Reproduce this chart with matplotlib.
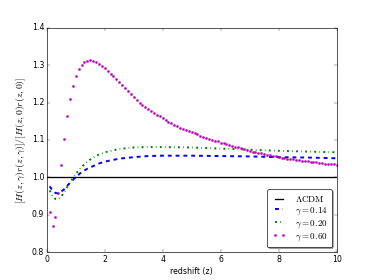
import matplotlib
matplotlib.use("Agg")
import matplotlib.pyplot as plt
import numpy as np

plt.style.use("classic")

# magenta (gamma = 0.60) sampled every 0.1 in z
z_m = [round(0.1 * i, 1) for i in range(1, 101)]
v_m = [0.906, 0.870, 0.894, 0.957, 1.034, 1.103, 1.163, 1.210, 1.245, 1.271,
       1.289, 1.301, 1.308, 1.312, 1.313, 1.312, 1.309, 1.304, 1.298, 1.292,
       1.285, 1.278, 1.271, 1.263, 1.256, 1.248, 1.240, 1.232, 1.224, 1.216,
       1.208, 1.200, 1.194, 1.188, 1.183, 1.178, 1.172, 1.167, 1.163, 1.158,
       1.154, 1.149, 1.145, 1.141, 1.137, 1.133, 1.130, 1.127, 1.124, 1.121,
       1.118, 1.115, 1.112, 1.109, 1.106, 1.104, 1.101, 1.098, 1.096, 1.093,
       1.091, 1.088, 1.086, 1.084, 1.082, 1.080, 1.078, 1.076, 1.073, 1.071,
       1.069, 1.067, 1.066, 1.064, 1.062, 1.060, 1.059, 1.057, 1.056, 1.054,
       1.053, 1.052, 1.050, 1.049, 1.048, 1.047, 1.046, 1.045, 1.044, 1.043,
       1.042, 1.041, 1.040, 1.039, 1.038, 1.037, 1.037, 1.036, 1.035, 1.034]

z_l = [0.1, 0.2, 0.3, 0.4, 0.5, 0.6, 0.7, 0.8, 0.9, 1.0, 1.2, 1.4, 1.6, 1.8,
       2.0, 2.5, 3.0, 3.5, 4.0, 5.0, 6.0, 7.0, 8.0, 9.0, 10.0]
v_b = [0.976, 0.965, 0.958, 0.957, 0.962, 0.968, 0.977, 0.985, 0.993, 1.000,
       1.014, 1.023, 1.030, 1.037, 1.042, 1.050, 1.054, 1.057, 1.058, 1.058,
       1.057, 1.056, 1.054, 1.053, 1.051]
v_g = [0.965, 0.950, 0.942, 0.942, 0.948, 0.960, 0.973, 0.985, 0.998, 1.009,
       1.028, 1.042, 1.053, 1.061, 1.067, 1.076, 1.080, 1.081, 1.081, 1.080,
       1.077, 1.074, 1.071, 1.069, 1.067]

labels = [r"$\Lambda\mathrm{CDM}$", r"$\gamma=0.14$", r"$\gamma=0.20$", r"$\gamma=0.60$"]

dpi = 46.75
fig = plt.figure(figsize=(374 / dpi, 280 / dpi), dpi=dpi)
ax = fig.add_subplot(111)
ax.axhline(1.0, color="k", lw=2, label=labels[0])
ax.plot(z_l, v_b, "b--", lw=3, label=labels[1])
ax.plot(z_l, v_g, "g-.", lw=3, label=labels[2])
ax.plot(z_m, v_m, "m.", ms=7, mec="m", label=labels[3])
ax.set_xlim(0, 10)
ax.set_ylim(0.8, 1.4)
ax.set_xlabel("redshift (z)")
ax.set_ylabel(r"$[H(z,\gamma)r(z,\gamma)]/[H(z,0)r(z,0)]$", fontsize=15)
ax.legend(loc="lower right", shadow=True, fancybox=True, numpoints=2,
          fontsize=14, labelspacing=0.15, handlelength=1.5, borderpad=0.5,
          handletextpad=1.0)
fig.savefig("out.png", dpi=dpi)
